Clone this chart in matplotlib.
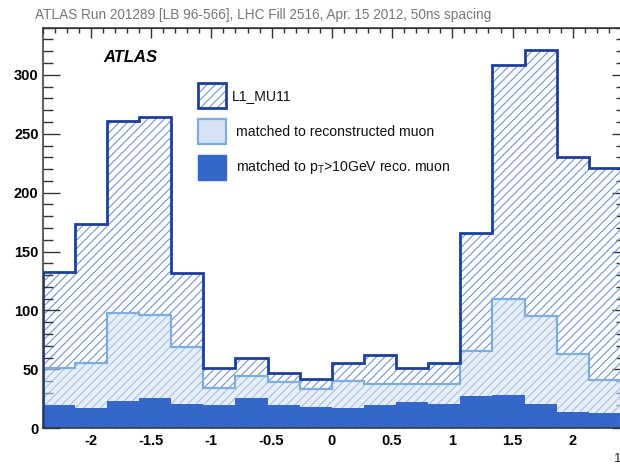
import matplotlib
matplotlib.use("Agg")
import matplotlib.pyplot as plt
import matplotlib.ticker as ticker
from matplotlib.patches import Rectangle
import numpy as np

# L1_MU11 trigger eta distribution, run 201289
n_bins = 18
eta_range = (-2.4, 2.4)
l1_counts = [133, 173, 261, 264, 132, 51, 60, 47, 42, 55, 62, 51, 55, 166, 308, 321, 230, 221]
reco_counts = [51, 55, 98, 96, 69, 34, 44, 39, 33, 40, 38, 38, 38, 66, 110, 95, 63, 41]
pt10_counts = [20, 17, 23, 26, 21, 20, 26, 20, 18, 17, 20, 22, 21, 27, 28, 21, 14, 13]

legend_labels = ["L1_MU11",
                 "matched to reconstructed muon",
                 r"matched to p$_\mathrm{T}$>10GeV reco. muon"]
title_text = "ATLAS Run 201289 [LB 96-566], LHC Fill 2516, Apr. 15 2012, 50ns spacing"

eta_edges = np.linspace(eta_range[0], eta_range[1], n_bins + 1)

# colours
c_l1 = "#1d3f9e"
c_hatch = "#7393d3"
c_reco_edge = "#7eaddc"
c_reco_fill = "#d4e4f5"
c_pt = "#3567cb"
c_frame = "#333333"

plt.rcParams["font.family"] = ["Liberation Sans", "DejaVu Sans"]
plt.rcParams["mathtext.fontset"] = "custom"
plt.rcParams["mathtext.rm"] = "Liberation Sans"
plt.rcParams["mathtext.it"] = "Liberation Sans:italic"
plt.rcParams["hatch.linewidth"] = 0.8

W, H = 620, 472
fig = plt.figure(figsize=(W / 100, H / 100), dpi=100)

def fx(x):
    return x / W

def fy(y):
    return 1 - y / H

ax_left, ax_right, ax_top, ax_bottom = 42.7, 621.0, 27.7, 428.3
ax = fig.add_axes([fx(ax_left), fy(ax_bottom), fx(ax_right - ax_left), (ax_bottom - ax_top) / H])

# hatched L1 histogram
ax.stairs(l1_counts, eta_edges, fill=True, facecolor="none", edgecolor=c_hatch,
          hatch="////", linewidth=0, zorder=1)
# reconstructed-muon match, semi transparent so the hatch shows through
ax.stairs(reco_counts, eta_edges, fill=True, facecolor=c_reco_fill, alpha=0.55,
          linewidth=0, zorder=2)
# pT > 10 GeV match, solid
ax.stairs(pt10_counts, eta_edges, fill=True, facecolor=c_pt, linewidth=0, zorder=3)
ax.stairs(reco_counts, eta_edges, color=c_reco_edge, linewidth=1.6, zorder=4)
ax.stairs(l1_counts, eta_edges, color=c_l1, linewidth=2.0, zorder=5)

ax.set_xlim(*eta_range)
ax.set_ylim(0, 340)

for s in ax.spines.values():
    s.set_color(c_frame)
    s.set_linewidth(1.1)
    s.set_zorder(6)

ax.xaxis.set_major_locator(ticker.MultipleLocator(0.5))
ax.xaxis.set_minor_locator(ticker.MultipleLocator(0.1))
ax.yaxis.set_major_locator(ticker.MultipleLocator(50))
ax.yaxis.set_minor_locator(ticker.MultipleLocator(10))
ax.xaxis.set_major_formatter(ticker.FuncFormatter(lambda v, p: f"{v:g}"))
ax.tick_params(axis="x", which="major", direction="in", length=9.5, width=1.0,
               color=c_frame, pad=4, labelsize=10.5)
ax.tick_params(axis="x", which="minor", direction="in", length=4.8, width=1.0, color=c_frame)
ax.tick_params(axis="y", which="major", direction="in", length=12.5, width=1.0,
               color=c_frame, pad=3, labelsize=10.5)
ax.tick_params(axis="y", which="minor", direction="in", length=7, width=1.0, color=c_frame)
for lab in ax.get_xticklabels() + ax.get_yticklabels():
    lab.set_fontweight("bold")

# ticks on the opposite sides, shorter
top = ax.secondary_xaxis("top")
top.xaxis.set_major_locator(ticker.MultipleLocator(0.5))
top.xaxis.set_minor_locator(ticker.MultipleLocator(0.1))
top.tick_params(which="major", direction="in", length=7, width=1.0, color=c_frame, labeltop=False)
top.tick_params(which="minor", direction="in", length=3.6, width=1.0, color=c_frame)
top.spines["top"].set_color(c_frame)
right = ax.secondary_yaxis("right")
right.yaxis.set_major_locator(ticker.MultipleLocator(50))
right.yaxis.set_minor_locator(ticker.MultipleLocator(10))
right.tick_params(which="major", direction="in", length=6.5, width=1.0, color=c_frame, labelright=False)
right.tick_params(which="minor", direction="in", length=3.6, width=1.0, color=c_frame)
right.spines["right"].set_color(c_frame)

fig.text(fx(35), fy(15), title_text, color="#777777", fontsize=9.85, ha="left", va="center")
fig.text(fx(103), fy(57), "ATLAS", fontsize=12, fontweight="bold", fontstyle="italic",
         ha="left", va="center")
fig.text(fx(614), fy(459), "1", fontsize=9.5, color="#222222", ha="left", va="center")

# legend boxes
bx, bw, bh = 198.3, 28.0, 25.0
box_tops = [83.3, 119.3, 155.0]
fig.patches.append(Rectangle((fx(bx), fy(box_tops[0] + bh)), bw / W, bh / H,
                             transform=fig.transFigure, facecolor="white",
                             edgecolor=c_hatch, hatch="////", linewidth=0))
fig.patches.append(Rectangle((fx(bx), fy(box_tops[0] + bh)), bw / W, bh / H,
                             transform=fig.transFigure, facecolor="none",
                             edgecolor=c_l1, linewidth=2.0))
fig.patches.append(Rectangle((fx(bx), fy(box_tops[1] + bh)), bw / W, bh / H,
                             transform=fig.transFigure, facecolor=c_reco_fill,
                             edgecolor=c_reco_edge, linewidth=1.6))
fig.patches.append(Rectangle((fx(bx), fy(box_tops[2] + bh)), bw / W, bh / H,
                             transform=fig.transFigure, facecolor=c_pt,
                             edgecolor=c_pt, linewidth=1.0))
text_x = [232, 236, 236]
for t, lx, label in zip(box_tops, text_x, legend_labels):
    fig.text(fx(lx), fy(t + bh / 2), label, fontsize=10.1, color="#111111",
             ha="left", va="center")

fig.savefig("out.png", dpi=100)
